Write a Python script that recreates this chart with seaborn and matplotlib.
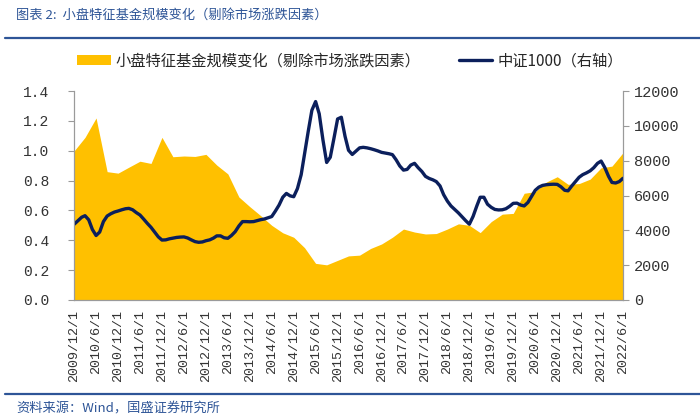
import pandas as pd
import seaborn as sns
import matplotlib.pyplot as plt

# quarterly fund-size change (left axis), 2009/12 .. 2022/6
fund_size = [1.00, 1.09, 1.22, 0.86, 0.85, 0.89, 0.93, 0.915, 1.09, 0.96,
             0.965, 0.962, 0.976, 0.904, 0.845, 0.69, 0.625, 0.565, 0.50, 0.45,
             0.42, 0.35, 0.245, 0.235, 0.265, 0.295, 0.30, 0.345, 0.375, 0.42,
             0.475, 0.455, 0.442, 0.445, 0.475, 0.51, 0.50, 0.451, 0.525, 0.575,
             0.58, 0.715, 0.726, 0.79, 0.826, 0.775, 0.78, 0.81, 0.886, 0.897,
             0.987]

# monthly CSI 1000 (right axis), 2009/12 .. 2022/6
csi1000 = [4350, 4550, 4750, 4840, 4600, 4050, 3700, 3900, 4500, 4820,
           4950, 5050, 5110, 5180, 5240, 5260, 5180, 5020, 4880, 4650,
           4400, 4170, 3900, 3620, 3440, 3450, 3510, 3550, 3590, 3610,
           3620, 3560, 3450, 3350, 3310, 3330, 3400, 3450, 3550, 3680,
           3680, 3570, 3540, 3700, 3920, 4250, 4500, 4500, 4490, 4500,
           4560, 4610, 4650, 4720, 4790, 5100, 5450, 5900, 6120, 5980,
           5930, 6400, 7200, 8400, 9700, 10900, 11400, 10700, 9200, 7900,
           8200, 9300, 10400, 10500, 9400, 8600, 8360, 8550, 8740, 8770,
           8740, 8690, 8630, 8560, 8480, 8440, 8400, 8350, 8050, 7700,
           7460, 7500, 7750, 7850, 7600, 7380, 7100, 6980, 6900, 6800,
           6550, 6050, 5680, 5400, 5200, 5000, 4780, 4550, 4350, 4800,
           5400, 5900, 5900, 5500, 5320, 5200, 5170, 5180, 5240, 5380,
           5550, 5560, 5450, 5400, 5600, 5950, 6300, 6480, 6580, 6620,
           6640, 6650, 6640, 6500, 6300, 6270, 6550, 6800, 7050, 7200,
           7300, 7420, 7600, 7850, 7980, 7600, 7100, 6750, 6720, 6800,
           6990]

q_dates = pd.date_range('2009-12-01', '2022-06-01', freq='3MS')
m_dates = pd.date_range('2009-12-01', '2022-06-01', freq='MS')
tick_dates = pd.date_range('2009-12-01', '2022-06-01', freq='6MS')
tick_labels = [f"{d.year}/{d.month}/1" for d in tick_dates]

df_q = pd.DataFrame({'date': q_dates, 'size': fund_size})
df_m = pd.DataFrame({'date': m_dates, 'idx': csi1000})

sns.set_style("white")
plt.rcParams['font.family'] = ['Noto Sans CJK SC', 'DejaVu Sans']

GOLD = '#FFC000'
NAVY = '#0B1F5C'
BLUE = '#2E5597'
num_font = 'Liberation Mono'

fig = plt.figure(figsize=(7, 4.2), dpi=100)
ax = fig.add_axes([0.106, 0.286, 0.784, 0.497])
ax.fill_between(df_q['date'], 0, df_q['size'], color=GOLD, linewidth=0,
                label='小盘特征基金规模变化（剔除市场涨跌因素）')
ax.set_ylim(0, 1.4)
ax.set_yticks([0, 0.2, 0.4, 0.6, 0.8, 1.0, 1.2, 1.4])
ax.set_yticklabels([f"{v:.1f}" for v in [0, 0.2, 0.4, 0.6, 0.8, 1.0, 1.2, 1.4]],
                   family=num_font, fontsize=10.5, color='#333333')
ax.set_xlim(q_dates[0], q_dates[-1])
ax.set_xticks(tick_dates)
ax.set_xticklabels(tick_labels, rotation=90, family=num_font, fontsize=9.6,
                   color='#333333')

ax2 = ax.twinx()
sns.lineplot(x='date', y='idx', data=df_m, ax=ax2, color=NAVY, linewidth=2.4,
             label='中证1000（右轴）', legend=False)
ax2.set_ylim(0, 12000)
ax2.set_yticks(range(0, 12001, 2000))
ax2.set_yticklabels([str(v) for v in range(0, 12001, 2000)], family=num_font,
                    fontsize=11, color='#333333')
ax2.set_xlabel('')
ax2.set_ylabel('')

for a in (ax, ax2):
    a.spines['top'].set_visible(False)
    for s in ('left', 'right', 'bottom'):
        a.spines[s].set_color('#9a9a9a')
        a.spines[s].set_linewidth(0.8)
    a.tick_params(length=4, width=0.8, color='#9a9a9a', pad=3)
ax.tick_params(axis='y', pad=14)
ax2.tick_params(axis='y', pad=4)

h1, l1 = ax.get_legend_handles_labels()
h2, l2 = ax2.get_legend_handles_labels()
fig.legend(h1 + h2, l1 + l2, loc='center', bbox_to_anchor=(0.5, 0.855),
           ncol=2, frameon=False, fontsize=11, handlelength=2.2,
           columnspacing=2.5, handletextpad=0.3)

fig.text(0.023, 0.963, '图表 2:  小盘特征基金规模变化（剔除市场涨跌因素）',
         color=BLUE, fontsize=9.5, va='center', style='italic')
fig.add_artist(plt.Line2D([0.007, 1.0], [0.91, 0.91], color=BLUE, linewidth=1.6))
fig.add_artist(plt.Line2D([0.007, 1.0], [0.062, 0.062], color=BLUE, linewidth=1.6))
fig.text(0.023, 0.025, '资料来源：Wind，国盛证券研究所', color=BLUE,
         fontsize=9.5, va='center', style='italic')

fig.savefig('out.png', dpi=100)
